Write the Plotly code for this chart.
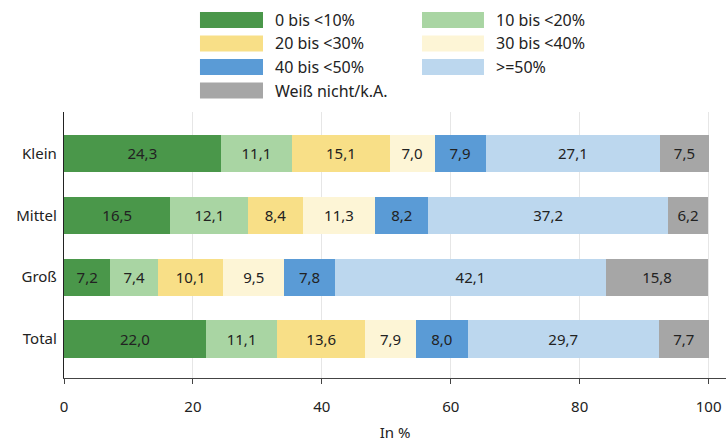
import plotly.graph_objects as go

categories = ["Klein", "Mittel", "Groß", "Total"]
series_names = ["0 bis <10%", "10 bis <20%", "20 bis <30%", "30 bis <40%",
                "40 bis <50%", ">=50%", "Weiß nicht/k.A."]
values = {
    "0 bis <10%":      [24.3, 16.5, 7.2, 22.0],
    "10 bis <20%":     [11.1, 12.1, 7.4, 11.1],
    "20 bis <30%":     [15.1, 8.4, 10.1, 13.6],
    "30 bis <40%":     [7.0, 11.3, 9.5, 7.9],
    "40 bis <50%":     [7.9, 8.2, 7.8, 8.0],
    ">=50%":           [27.1, 37.2, 42.1, 29.7],
    "Weiß nicht/k.A.": [7.5, 6.2, 15.8, 7.7],
}
x_ticks = [0, 20, 40, 60, 80, 100]
colors = ["#4a974a", "#a9d5a3", "#f8df87", "#fdf5d6", "#5a9bd6", "#bcd7ee", "#a6a6a6"]

FONT = "Noto Sans"

fig = go.Figure()
for name, col in zip(series_names, colors):
    vals = values[name]
    fig.add_trace(go.Bar(
        y=categories, x=vals, orientation="h", name=name,
        marker=dict(color=col, line=dict(width=0)),
        text=[f"{v:.1f}".replace(".", ",") for v in vals],
        textposition="inside", insidetextanchor="middle",
        textfont=dict(color="#222222", size=15, family=FONT),
        width=0.6, showlegend=False, hoverinfo="skip",
    ))

# custom legend (two columns)
col_x = [(0.2054, 0.3006, 0.3157), (0.5408, 0.6344, 0.6495)]  # swatch x0, x1, text x in paper
row_y = [20, 43.5, 67, 90.5]  # px from top
H = 444
plot_top, plot_bot = 112, 378
shapes = []
annotations = []
def py(pix):
    return (plot_bot - pix) / (plot_bot - plot_top)
for i, (name, col) in enumerate(zip(series_names, colors)):
    r, c = divmod(i, 2)
    sx0, sx1, tx = col_x[c]
    yc = row_y[r]
    shapes.append(dict(type="rect", xref="paper", yref="paper",
                       x0=sx0, x1=sx1, y0=py(yc + 8), y1=py(yc - 8),
                       fillcolor=col, line=dict(width=0)))
    annotations.append(dict(xref="paper", yref="paper", x=tx, y=py(yc),
                            text=name, showarrow=False, xanchor="left", yanchor="middle",
                            font=dict(size=16, color="#222222", family=FONT)))

fig.update_layout(
    barmode="stack",
    width=726, height=444,
    margin=dict(l=64, r=0, t=plot_top, b=H - plot_bot, autoexpand=False),
    paper_bgcolor="white", plot_bgcolor="white",
    font=dict(family=FONT, size=15, color="#222222"),
    shapes=shapes, annotations=annotations,
    uniformtext=dict(minsize=15, mode="show"),
)
fig.update_xaxes(
    range=[0, 102.7], tickvals=x_ticks, ticks="outside", ticklen=5, tickcolor="#444",
    showgrid=True, gridcolor="#e6e6e6", gridwidth=1, automargin=False,
    showline=True, linecolor="#444", linewidth=1.3, zeroline=False,
    ticklabelstandoff=10,
    title=dict(text="In %", font=dict(size=15, family=FONT), standoff=12),
    tickfont=dict(size=15, family=FONT, color="#222"),
)
fig.update_yaxes(
    categoryorder="array", categoryarray=categories, automargin=False,
    range=[3.63, -0.67], showline=True, linecolor="#222", linewidth=1.3,
    ticks="", showgrid=False, ticklabelstandoff=3,
    tickfont=dict(size=15, family=FONT, color="#222"),
)

fig.write_html("out.html", config={"displayModeBar": False},
               post_script="document.body.style.margin='0px';")
